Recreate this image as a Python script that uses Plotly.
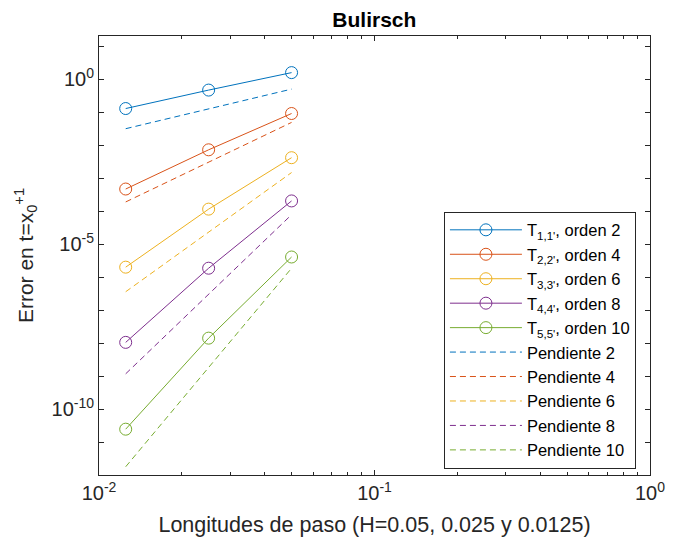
import plotly.graph_objects as go

h = [0.0125, 0.025, 0.05]
h_ref = [0.0125, 0.05]

T11 = [0.129, 0.468, 1.585]
T22 = [4.68e-4, 7.24e-3, 9.12e-2]
T33 = [2.0e-6, 1.15e-4, 4.17e-3]
T44 = [1.05e-8, 1.86e-6, 2.04e-4]
T55 = [2.45e-11, 1.41e-8, 4.07e-6]

P2 = [3.16e-2, 0.501]
P4 = [1.9e-4, 4.9e-2]
P6 = [3.6e-7, 1.48e-3]
P8 = [1.17e-9, 7.8e-5]
P10 = [1.78e-12, 1.86e-6]

names_T = ["T<sub>1,1'</sub>, orden 2", "T<sub>2,2'</sub>, orden 4", "T<sub>3,3'</sub>, orden 6",
           "T<sub>4,4'</sub>, orden 8", "T<sub>5,5'</sub>, orden 10"]
names_P = ["Pendiente 2", "Pendiente 4", "Pendiente 6", "Pendiente 8", "Pendiente 10"]
colors = ["#0072BD", "#D95319", "#EDB120", "#7E2F8E", "#77AC30"]

x_tickvals = [0.01, 0.1, 1]
x_ticktext = ["10<sup>-2</sup>", "10<sup>-1</sup>", "10<sup>0</sup>"]
y_tickvals = [1e-10, 1e-5, 1e0]
y_ticktext = ["10<sup>-10</sup>", "10<sup>-5</sup>", "10<sup>0</sup>"]
y_minor_exps = [e for e in range(-12, 2) if e not in (-10, -5, 0)]

fig = go.Figure()
for name, ys, c in zip(names_T, [T11, T22, T33, T44, T55], colors):
    fig.add_trace(go.Scatter(x=h, y=ys, mode="lines+markers", name=name,
                             line=dict(color=c, width=1),
                             marker=dict(symbol="circle-open", size=12, color=c, line=dict(width=1))))
for name, ys, c in zip(names_P, [P2, P4, P6, P8, P10], colors):
    fig.add_trace(go.Scatter(x=h_ref, y=ys, mode="lines", name=name,
                             line=dict(color=c, width=1, dash="6px,4px")))

axcol = "#262626"
minor_x = [m * 10 ** e for e in (-2, -1) for m in range(2, 10)]
fig.update_xaxes(type="log", range=[-2, 0], tickvals=x_tickvals, ticktext=x_ticktext,
                 ticks="inside", ticklen=5, tickcolor=axcol, showline=True, linecolor=axcol,
                 mirror="allticks", showgrid=False, zeroline=False,
                 minor=dict(tickvals=minor_x, ticks="inside", ticklen=3, tickcolor=axcol, showgrid=False),
                 tickfont=dict(size=20, color=axcol),
                 title=dict(text="Longitudes de paso (H=0.05, 0.025 y 0.0125)", font=dict(size=21.5, color=axcol),
                            standoff=13))
fig.update_yaxes(type="log", range=[-12, 1.31], tickvals=y_tickvals, ticktext=y_ticktext,
                 ticks="inside", ticklen=5, tickcolor=axcol, showline=True, linecolor=axcol,
                 mirror="allticks", showgrid=False, zeroline=False,
                 minor=dict(tickvals=[10.0 ** e for e in y_minor_exps], ticks="inside", ticklen=5,
                            tickcolor=axcol, showgrid=False),
                 tickfont=dict(size=20, color=axcol),
                 title=dict(text="Error en t=x<sub>0</sub><sup>+1</sup>", font=dict(size=21, color=axcol),
                            standoff=12))
fig.update_layout(
    width=677, height=544,
    margin=dict(l=99, r=19, t=36, b=68),
    paper_bgcolor="white", plot_bgcolor="white",
    font=dict(family="Liberation Sans, Arial, sans-serif", color=axcol),
    title=dict(text="<b>Bulirsch</b>", x=0.553, xanchor="center", y=0.963, yanchor="middle",
               font=dict(size=21, color="black")),
    legend=dict(x=0.626, y=0.6, xanchor="left", yanchor="top", bgcolor="white",
                bordercolor=axcol, borderwidth=1, font=dict(size=16.5, color="black"),
                itemwidth=72, tracegroupgap=0),
    showlegend=True,
)
fig.write_html("out.html")
